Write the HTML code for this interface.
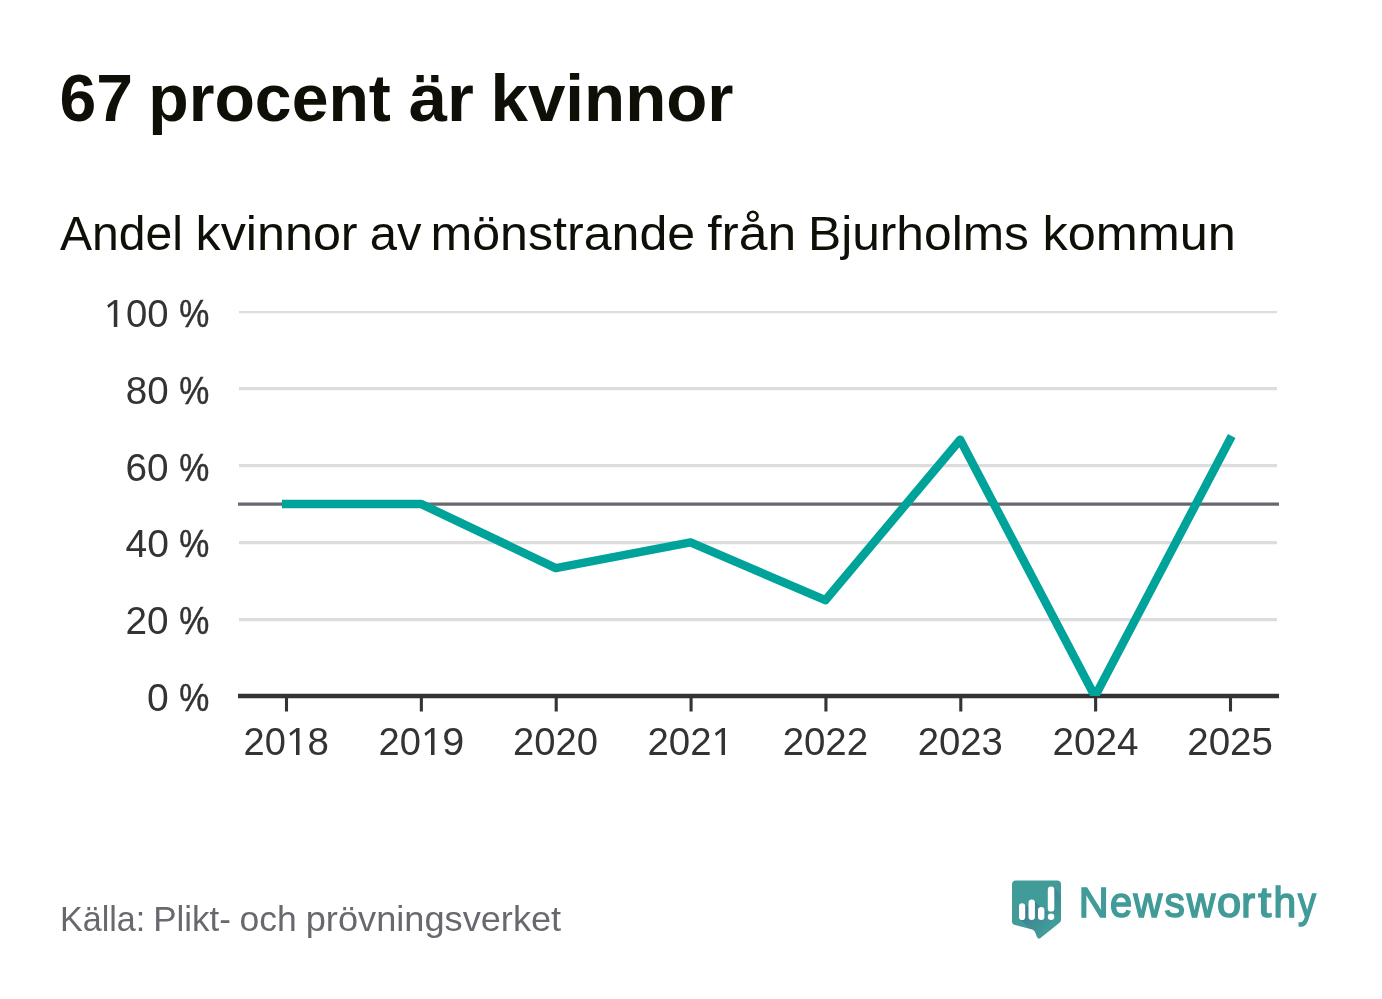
<!DOCTYPE html>
<html lang="sv">
<head>
<meta charset="utf-8">
<title>67 procent är kvinnor</title>
<style>
  html, body { margin: 0; padding: 0; background: #ffffff; }
  body { width: 1382px; height: 999px; overflow: hidden; font-family: "Liberation Sans", sans-serif; }
  svg { display: block; will-change: transform; }
  text { font-family: "Liberation Sans", sans-serif; }
  .title { font-weight: bold; font-size: 66px; fill: #0f0f08; }
  .subtitle { font-size: 47.5px; fill: #0f0f08; }
  .tick { font-size: 39px; fill: #333333; }
  .source { font-size: 35px; fill: #6a686f; }
  .brand { font-size: 42.8px; fill: #419b98; stroke: #419b98; stroke-width: 1.6px; }
</style>
</head>
<body>
<svg width="1382" height="999" viewBox="0 0 1382 999">
  <rect x="0" y="0" width="1382" height="999" fill="#ffffff"/>
  <defs>
    <clipPath id="bodyclip"><path d="M1016,880.4 H1057 a4,4 0 0 1 4,4 V920 a3,3 0 0 1 -1.2,2.4 L1040.5,938 a2.2,2.2 0 0 1 -3.5,-1 L1035,932 a4,4 0 0 0 -2.8,-2.6 L1015,925 a4,4 0 0 1 -3,-3.9 V884.4 a4,4 0 0 1 4,-4 Z"/></clipPath>
    <linearGradient id="shg" gradientUnits="userSpaceOnUse" x1="1014" y1="912" x2="1038" y2="936"><stop offset="0" stop-color="#3a4f90" stop-opacity="0.46"/><stop offset="1" stop-color="#3a4f90" stop-opacity="0"/></linearGradient>
    <mask id="shmask" maskUnits="userSpaceOnUse" x="1000" y="870" width="80" height="80"><g fill="#ffffff"><polygon points="1024.30,904.10 1069.30,949.10 1064.90,964.10 1019.90,919.10"/><polygon points="1033.97,900.53 1078.97,945.53 1074.43,964.07 1029.43,919.07"/><polygon points="1043.47,907.93 1088.47,952.93 1083.93,964.07 1038.93,919.07"/><polygon points="1053.36,887.34 1098.36,932.34 1093.74,964.06 1048.74,919.06"/></g></mask>
    <clipPath id="plotclip"><rect x="200" y="290" width="1120" height="406"/></clipPath>
    <clipPath id="topclip"><rect x="200" y="311" width="1120" height="10"/></clipPath>
    <path id="one" d="M3.5,0 L3.5,-26.9 L0.68,-26.9 L-6.6,-21.6 L-5.27,-19 L0,-23.3 L0,0 Z" fill="#333333"/>
  </defs>

  <!-- Title -->
  <text class="title" x="59.50" y="121.1" textLength="73.46" lengthAdjust="spacingAndGlyphs">67</text>
  <text class="title" x="148.25" y="121.1" textLength="242.64" lengthAdjust="spacingAndGlyphs">procent</text>
  <text class="title" x="408.75" y="121.1" textLength="65.17" lengthAdjust="spacingAndGlyphs">är</text>
  <text class="title" x="490.50" y="121.1" textLength="243.03" lengthAdjust="spacingAndGlyphs">kvinnor</text>

  <!-- Subtitle -->
  <text class="subtitle" x="60.00" y="249.8" textLength="123.05" lengthAdjust="spacingAndGlyphs">Andel</text>
  <text class="subtitle" x="195.50" y="249.8" textLength="162.11" lengthAdjust="spacingAndGlyphs">kvinnor</text>
  <text class="subtitle" x="369.75" y="249.8" textLength="51.76" lengthAdjust="spacingAndGlyphs">av</text>
  <text class="subtitle" x="430.50" y="249.8" textLength="264.64" lengthAdjust="spacingAndGlyphs">mönstrande</text>
  <text class="subtitle" x="707.25" y="249.8" textLength="88.94" lengthAdjust="spacingAndGlyphs">från</text>
  <text class="subtitle" x="808.00" y="249.8" textLength="220.95" lengthAdjust="spacingAndGlyphs">Bjurholms</text>
  <text class="subtitle" x="1042.50" y="249.8" textLength="193.27" lengthAdjust="spacingAndGlyphs">kommun</text>

  <!-- Gridlines -->
  <g stroke="#dddddd" stroke-width="3.25" fill="none">
    <line x1="239" y1="311.5" x2="1277" y2="311.5" clip-path="url(#topclip)"/>
    <line x1="239" y1="388.5" x2="1277" y2="388.5"/>
    <line x1="239" y1="465.5" x2="1277" y2="465.5"/>
    <line x1="239" y1="542.5" x2="1277" y2="542.5"/>
    <line x1="239" y1="619.5" x2="1277" y2="619.5"/>
  </g>

  <!-- 50 % reference line -->
  <line x1="238" y1="504" x2="1279" y2="504" stroke="#69676e" stroke-width="3.25"/>

  <!-- X axis -->
  <line x1="238" y1="696" x2="1279" y2="696" stroke="#333333" stroke-width="4.3"/>
  <g stroke="#333333" stroke-width="3.1" fill="none">
    <line x1="286.5" y1="696" x2="286.5" y2="711.5"/>
    <line x1="421.36" y1="696" x2="421.36" y2="711.5"/>
    <line x1="556.21" y1="696" x2="556.21" y2="711.5"/>
    <line x1="691.07" y1="696" x2="691.07" y2="711.5"/>
    <line x1="825.93" y1="696" x2="825.93" y2="711.5"/>
    <line x1="960.79" y1="696" x2="960.79" y2="711.5"/>
    <line x1="1095.64" y1="696" x2="1095.64" y2="711.5"/>
    <line x1="1230.5" y1="696" x2="1230.5" y2="711.5"/>
  </g>

  <!-- Y labels -->
  <g class="tick">
    <use href="#one" x="113.8" y="326.9"/>
    <text x="126.00" y="326.9" textLength="42.60" lengthAdjust="spacingAndGlyphs">00</text>
    <text x="179.25" y="326.9" textLength="30.04" lengthAdjust="spacingAndGlyphs" stroke="#333333" stroke-width="0.5">%</text>
    <text x="125.75" y="403.7" textLength="42.83" lengthAdjust="spacingAndGlyphs">80</text>
    <text x="179.25" y="403.7" textLength="30.04" lengthAdjust="spacingAndGlyphs" stroke="#333333" stroke-width="0.5">%</text>
    <text x="125.50" y="480.5" textLength="43.11" lengthAdjust="spacingAndGlyphs">60</text>
    <text x="179.25" y="480.5" textLength="30.04" lengthAdjust="spacingAndGlyphs" stroke="#333333" stroke-width="0.5">%</text>
    <text x="125.50" y="557.3" textLength="43.34" lengthAdjust="spacingAndGlyphs">40</text>
    <text x="179.25" y="557.3" textLength="30.04" lengthAdjust="spacingAndGlyphs" stroke="#333333" stroke-width="0.5">%</text>
    <text x="125.50" y="634.1" textLength="43.11" lengthAdjust="spacingAndGlyphs">20</text>
    <text x="179.25" y="634.1" textLength="30.04" lengthAdjust="spacingAndGlyphs" stroke="#333333" stroke-width="0.5">%</text>
    <text x="147.00" y="710.9" textLength="21.72" lengthAdjust="spacingAndGlyphs">0</text>
    <text x="179.25" y="710.9" textLength="30.04" lengthAdjust="spacingAndGlyphs" stroke="#333333" stroke-width="0.5">%</text>
  </g>

  <!-- X labels -->
  <g class="tick">
    <text x="243.50" y="754.6" textLength="42.28" lengthAdjust="spacingAndGlyphs">20</text>
    <use href="#one" x="296.0" y="754.9"/>
    <text x="307.50" y="754.6" textLength="21.41" lengthAdjust="spacingAndGlyphs">8</text>
    <text x="378.50" y="754.6" textLength="42.28" lengthAdjust="spacingAndGlyphs">20</text>
    <use href="#one" x="431.0" y="754.9"/>
    <text x="442.25" y="754.6" textLength="22.00" lengthAdjust="spacingAndGlyphs">9</text>
    <text x="513.05" y="754.6" textLength="84.94" lengthAdjust="spacingAndGlyphs">2020</text>
    <text x="647.50" y="754.6" textLength="64.01" lengthAdjust="spacingAndGlyphs">202</text>
    <use href="#one" x="721.5" y="754.9"/>
    <text x="782.65" y="754.6" textLength="85.46" lengthAdjust="spacingAndGlyphs">2022</text>
    <text x="917.70" y="754.6" textLength="85.19" lengthAdjust="spacingAndGlyphs">2023</text>
    <text x="1052.45" y="754.6" textLength="85.99" lengthAdjust="spacingAndGlyphs">2024</text>
    <text x="1187.25" y="754.6" textLength="85.70" lengthAdjust="spacingAndGlyphs">2025</text>
  </g>

  <!-- Data line -->
  <polyline clip-path="url(#plotclip)" fill="none" stroke="#00a39a" stroke-width="8.5" stroke-linejoin="round" stroke-linecap="square"
    points="286.15,503.90 420.95,503.90 555.75,568.07 690.55,542.40 825.35,600.15 960.15,439.73 1094.95,696.40 1229.75,439.73"/>

  <!-- Source -->
  <text class="source" x="60.00" y="930.8" textLength="85.33" lengthAdjust="spacingAndGlyphs">Källa:</text>
  <text class="source" x="153.25" y="930.8" textLength="77.67" lengthAdjust="spacingAndGlyphs">Plikt-</text>
  <text class="source" x="239.50" y="930.8" textLength="57.22" lengthAdjust="spacingAndGlyphs">och</text>
  <text class="source" x="305.75" y="930.8" textLength="255.43" lengthAdjust="spacingAndGlyphs">prövningsverket</text>

  <!-- Logo -->
  <g id="logo">
    <path d="M1016,880.4 H1057 a4,4 0 0 1 4,4 V920 a3,3 0 0 1 -1.2,2.4 L1040.5,938 a2.2,2.2 0 0 1 -3.5,-1 L1035,932 a4,4 0 0 0 -2.8,-2.6 L1015,925 a4,4 0 0 1 -3,-3.9 V884.4 a4,4 0 0 1 4,-4 Z" fill="#419b98"/>
    <g clip-path="url(#bodyclip)"><rect x="1000" y="870" width="80" height="80" fill="url(#shg)" mask="url(#shmask)"/></g>
    <rect x="1019" y="903.2" width="6.2" height="16.8" rx="3.1" fill="#ffffff"/>
    <rect x="1028.5" y="899.6" width="6.4" height="20.4" rx="3.2" fill="#ffffff"/>
    <rect x="1038" y="907" width="6.4" height="13" rx="3.2" fill="#ffffff"/>
    <rect x="1047.8" y="886.4" width="6.5" height="25.2" rx="3.2" fill="#ffffff"/>
    <rect x="1047.8" y="913.6" width="6.5" height="6.4" rx="3.2" fill="#ffffff"/>
    <text class="brand" x="1078.75" y="916.6" textLength="29.94" lengthAdjust="spacingAndGlyphs">N</text>
    <text class="brand" x="1110.00" y="916.6" textLength="22.16" lengthAdjust="spacingAndGlyphs">e</text>
    <text class="brand" x="1133.50" y="916.6" textLength="28.70" lengthAdjust="spacingAndGlyphs">w</text>
    <text class="brand" x="1164.50" y="916.6" textLength="20.37" lengthAdjust="spacingAndGlyphs">s</text>
    <text class="brand" x="1186.75" y="916.6" textLength="28.44" lengthAdjust="spacingAndGlyphs">w</text>
    <text class="brand" x="1217.00" y="916.6" textLength="24.08" lengthAdjust="spacingAndGlyphs">o</text>
    <text class="brand" x="1241.25" y="916.6" textLength="13.82" lengthAdjust="spacingAndGlyphs">r</text>
    <text class="brand" x="1258.25" y="916.6" textLength="12.97" lengthAdjust="spacingAndGlyphs">t</text>
    <text class="brand" x="1273.50" y="916.6" textLength="22.63" lengthAdjust="spacingAndGlyphs">h</text>
    <text class="brand" x="1298.00" y="916.6" textLength="17.93" lengthAdjust="spacingAndGlyphs">y</text>
  </g>
</svg>
</body>
</html>
